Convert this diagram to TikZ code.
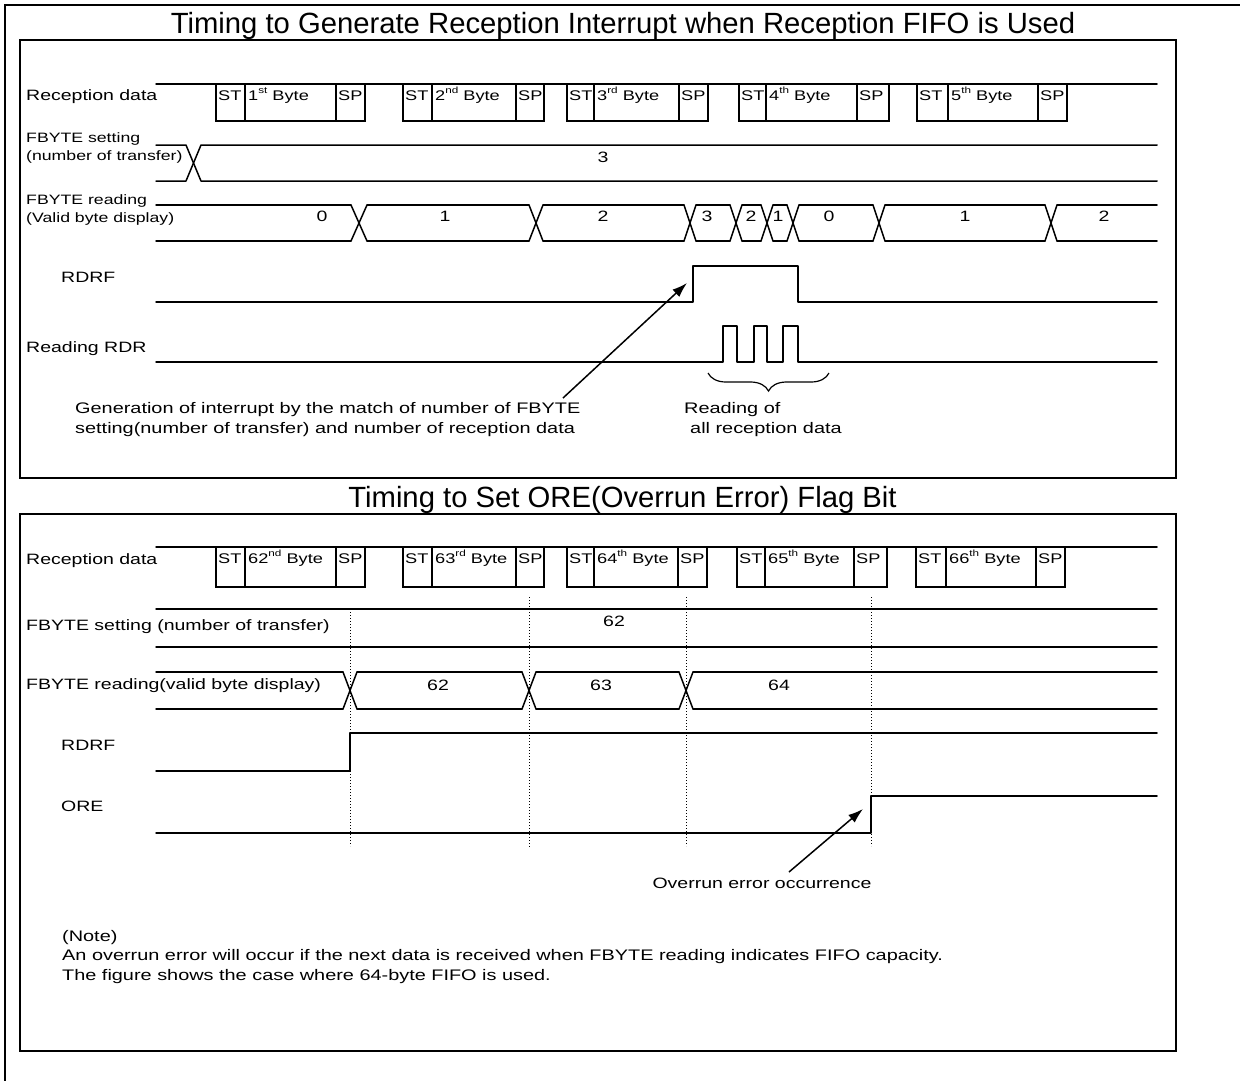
\documentclass[tikz,border=0pt]{standalone}
\usepackage{fontspec}
\setmainfont{Liberation Sans}[FakeStretch=1.3]
\newfontfamily\titlefont{Liberation Sans}
\usetikzlibrary{arrows.meta,decorations.pathreplacing}
\newcommand\ordsup[1]{\raisebox{7pt}{\fontsize{9}{9}\selectfont #1}}
\newcommand\rxbox[9]{%
  \draw[boxl] (#4,#2) rectangle (#7,#3);
  \draw[boxl] (#5,#2) -- (#5,#3) (#6,#2) -- (#6,#3);
  \node[boxtxt] (#1st) at ({#4+2},{#2+16}) {ST};
  \node[boxtxt] (#1by) at ({#5+3},{#2+16}) {#8\ordsup{#9} Byte};
  \node[boxtxt] (#1sp) at ({#6+2},{#2+16}) {SP};
}
\tikzset{
  sig/.style={line width=1.5pt, line cap=round, line join=round},
  boxl/.style={line width=1.2pt},
  frame/.style={line width=2.4pt},
  lbl/.style={anchor=west, inner sep=0pt, font=\fontsize{15}{19}\selectfont},
  slbl/.style={anchor=west, inner sep=0pt, align=left, font=\fontsize{13.6}{18.5}\selectfont},
  note/.style={anchor=west, inner sep=0pt, align=left, font=\fontsize{15.3}{19.5}\selectfont},
  boxtxt/.style={anchor=base west, inner sep=0pt, font=\fontsize{14}{16}\selectfont},
  val/.style={anchor=center, inner sep=0pt, font=\fontsize{15}{18}\selectfont},
  dotl/.style={line width=1pt, dash pattern=on 1.2pt off 1.8pt},
  ttl/.style={inner sep=0pt, anchor=base, font=\titlefont\fontsize{29.25}{32}\selectfont},
  arr/.style={line width=1.5pt, -{Latex[length=15pt,width=10pt]}},
}
\begin{document}
\begin{tikzpicture}[x=1pt,y=-1pt]
\useasboundingbox (0,0) rectangle (1240,1080);
% outer frame
\draw[line width=2pt] (5,1090) -- (5,4.5) -- (1250,4.5);

% ================= Panel 1 =================
\node[ttl] (t1) at (623,33) {Timing to Generate Reception Interrupt when Reception FIFO is Used};
\draw[frame] (20,40) rectangle (1176,478);

% Reception data
\node[lbl] (l1rx) at (26,97) {Reception data};
\draw[sig] (156,84) -- (1157,84);
\rxbox{pa}{84}{121}{216}{245}{336}{365}{1}{st}
\rxbox{pb}{84}{121}{403}{432}{516}{544}{2}{nd}
\rxbox{pc}{84}{121}{567}{594}{679}{708}{3}{rd}
\rxbox{pd}{84}{121}{739}{766}{857}{889}{4}{th}
\rxbox{pe}{84}{121}{917}{948}{1038}{1067}{5}{th}

% FBYTE setting
\node[slbl] (l1fs) at (26,148) {FBYTE setting\\(number of transfer)};
\draw[sig] (156,145) -- (186,145) -- (201,181) -- (1157,181);
\draw[sig] (156,181) -- (186,181) -- (201,145) -- (1157,145);
\node[val] (v1fs) at (603,157) {3};

% FBYTE reading
\node[slbl] (l1fr) at (26,210) {FBYTE reading\\(Valid byte display)};
\foreach \a/\b in {156/351, 367/529, 543/684, 696/730, 742/761, 773/787, 799/873, 885/1045, 1057/1157}
  {\draw[sig] (\a,205) -- (\b,205) (\a,241) -- (\b,241);}
\foreach \a/\b in {351/367, 529/543, 684/696, 730/742, 761/773, 787/799, 873/885, 1045/1057}
  {\draw[sig] (\a,205) -- (\b,241) (\a,241) -- (\b,205);}
\foreach \x/\v [count=\i] in {322/0, 445/1, 603/2, 707/3, 751/2, 778/1, 829/0, 965/1, 1104/2}
  {\node[val] (v1fr\i) at (\x,216) {\v};}

% RDRF
\node[lbl] (l1rdrf) at (61,277) {RDRF};
\draw[sig] (156,302) -- (693,302) -- (693,266) -- (798,266) -- (798,302) -- (1157,302);

% Reading RDR
\node[lbl] (l1rdr) at (26,349) {Reading RDR};
\draw[sig] (156,362) -- (723,362) -- (723,326) -- (737,326) -- (737,362) -- (754,362) -- (754,326) -- (767,326) -- (767,362) -- (783,362) -- (783,326) -- (798,326) -- (798,362) -- (1157,362);

% brace
\coordinate (brA) at (708,373);
\coordinate (brB) at (829,373);
\draw[line width=1.2pt, decorate, decoration={brace, mirror, amplitude=18pt}] (brA) -- (brB);
\node[note] (nread) at (684,419.5) {Reading of\\\hspace*{6pt}all reception data};

% interrupt annotation
\node[note] (ngen) at (75,419.5) {Generation of interrupt by the match of number of FBYTE\\setting(number of transfer) and number of reception data};
\coordinate (a1s) at (563,398);
\coordinate (a1e) at (687,283);
\draw[arr] (a1s) -- (a1e);

% ================= Panel 2 =================
\node[ttl] (t2) at (622.5,507) {Timing to Set ORE(Overrun Error) Flag Bit};
\draw[frame] (20,514) rectangle (1176,1051);

% dotted guides
\draw[dotl] (350,609) -- (350,846);
\draw[dotl] (529,597) -- (529,848);
\draw[dotl] (686,597) -- (686,846);
\draw[dotl] (871,597) -- (871,846);

% Reception data
\node[lbl] (l2rx) at (26,561) {Reception data};
\draw[sig] (156,547) -- (1157,547);
\rxbox{qa}{547}{587}{216}{245}{336}{365}{62}{nd}
\rxbox{qb}{547}{587}{403}{432}{516}{544}{63}{rd}
\rxbox{qc}{547}{587}{567}{594}{678}{707}{64}{th}
\rxbox{qd}{547}{587}{737}{765}{854}{887}{65}{th}
\rxbox{qe}{547}{587}{916}{946}{1036}{1065}{66}{th}

% FBYTE setting
\node[lbl] (l2fs) at (26,627) {FBYTE setting (number of transfer)};
\draw[sig] (156,609) -- (1157,609) (156,647) -- (1157,647);
\node[val] (v2fs) at (614,621) {62};

% FBYTE reading
\node[lbl] (l2fr) at (26,686) {FBYTE reading(valid byte display)};
\foreach \a/\b in {156/343, 357/522, 536/679, 693/1157}
  {\draw[sig] (\a,672) -- (\b,672) (\a,709) -- (\b,709);}
\foreach \a/\b in {343/357, 522/536, 679/693}
  {\draw[sig] (\a,672) -- (\b,709) (\a,709) -- (\b,672);}
\foreach \x/\v [count=\i] in {438/62, 601/63, 779/64}
  {\node[val] (v2fr\i) at (\x,685) {\v};}

% RDRF
\node[lbl] (l2rdrf) at (61,745) {RDRF};
\draw[sig] (156,771) -- (350,771) -- (350,733) -- (1157,733);

% ORE
\node[lbl] (l2ore) at (61,806) {ORE};
\draw[sig] (156,833) -- (871,833) -- (871,796) -- (1157,796);

% overrun annotation
\node[val] (nover) at (762,883) {Overrun error occurrence};
\coordinate (a2s) at (789,872);
\coordinate (a2e) at (863,809);
\draw[arr] (a2s) -- (a2e);

% note
\node[note] (notes) at (62,957) {(Note)\\An overrun error will occur if the next data is received when FBYTE reading indicates FIFO capacity.\\The figure shows the case where 64-byte FIFO is used.};
\end{tikzpicture}
\end{document}
